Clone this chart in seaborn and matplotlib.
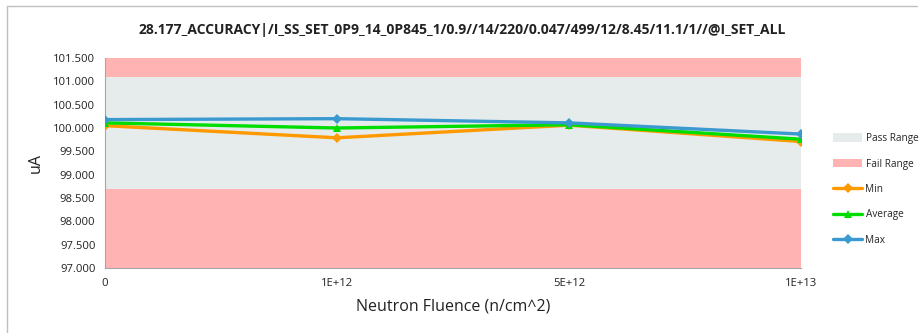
import matplotlib
matplotlib.use("Agg")
import matplotlib.pyplot as plt
from matplotlib.lines import Line2D
from matplotlib.patches import Patch
import seaborn as sns
import pandas as pd

# Measured current per neutron fluence step
fluence_labels = ["0", "1E+12", "5E+12", "1E+13"]
min_vals = [100.05, 99.79, 100.06, 99.71]
avg_vals = [100.11, 100.00, 100.07, 99.76]
max_vals = [100.18, 100.20, 100.11, 99.87]

# Specification limits
pass_low, pass_high = 98.7, 101.1
y_min, y_max = 97.0, 101.5
y_ticks = [97.0, 97.5, 98.0, 98.5, 99.0, 99.5, 100.0, 100.5, 101.0, 101.5]

title = "28.177_ACCURACY|/I_SS_SET_0P9_14_0P845_1/0.9//14/220/0.047/499/12/8.45/11.1/1//@I_SET_ALL"

series_names = ["Min", "Average", "Max"]
colors = {"Min": "#FF9900", "Average": "#00DD00", "Max": "#3A9AD0"}
markers = {"Min": "D", "Average": "^", "Max": "D"}
pass_color = "#E6EBEB"
fail_color = "#FFB3B3"

rows = []
for name, vals in zip(series_names, [min_vals, avg_vals, max_vals]):
    for i, v in enumerate(vals):
        rows.append({"pos": i, "value": v, "Series": name})
df = pd.DataFrame(rows)

sns.set_theme(style="white")
plt.rcParams["font.family"] = ["Open Sans", "DejaVu Sans"]

W, H = 919, 333
fig = plt.figure(figsize=(W / 100, H / 100), dpi=100)
ax = fig.add_axes([105 / W, (H - 268) / H, (801 - 105) / W, (268 - 58) / H])

# Pass / fail bands
ax.axhspan(pass_low, pass_high, color=pass_color, zorder=0, lw=0)
ax.axhspan(y_min, pass_low, color=fail_color, zorder=0, lw=0)
ax.axhspan(pass_high, y_max, color=fail_color, zorder=0, lw=0)

sns.lineplot(data=df, x="pos", y="value", hue="Series", style="Series",
             hue_order=series_names, style_order=series_names,
             palette=colors, markers=markers, dashes=False,
             linewidth=2.4, markersize=5.5, markeredgewidth=0,
             legend=False, ax=ax, zorder=3)

ax.set_xlim(0, len(fluence_labels) - 1)
ax.set_ylim(y_min, y_max)
ax.set_xticks(range(len(fluence_labels)))
ax.set_xticklabels(fluence_labels)
ax.set_yticks(y_ticks)
ax.set_yticklabels([f"{t:.3f}" for t in y_ticks])
ax.tick_params(axis="both", labelsize=8.1, colors="#222222", length=4,
               width=0.8, direction="out", pad=3)
ax.tick_params(axis="both", color="#A6A6A6")
for side in ["top", "right"]:
    ax.spines[side].set_visible(False)
for side in ["left", "bottom"]:
    ax.spines[side].set_color("#A6A6A6")
    ax.spines[side].set_linewidth(0.8)

ax.set_xlabel("Neutron Fluence (n/cm^2)", fontsize=11.5, color="#222222", labelpad=7)
ax.set_ylabel("uA", fontsize=11.5, color="#222222", labelpad=7)

fig.text(462 / W, 1 - 30 / H, title, ha="center", va="center",
         fontsize=10, fontweight="bold", color="#222222",
         family=["Liberation Sans Narrow", "Open Sans", "DejaVu Sans"])

# Chart frame
fig.add_artist(Line2D([7 / W, 917 / W], [1 - 6 / H, 1 - 6 / H],
                      transform=fig.transFigure, color="#BFBFBF", lw=1))
fig.add_artist(Line2D([7 / W, 7 / W], [0, 1 - 6 / H],
                      transform=fig.transFigure, color="#BFBFBF", lw=1))

handles = [
    Patch(facecolor=pass_color, edgecolor="none", label="Pass Range"),
    Patch(facecolor=fail_color, edgecolor="none", label="Fail Range"),
]
for name in series_names:
    handles.append(Line2D([], [], color=colors[name], lw=2.4,
                          marker=markers[name], markersize=5.5,
                          markeredgewidth=0, label=name))
fig.legend(handles=handles, loc="upper left",
           bbox_to_anchor=(833 / W, 1 - 133 / H), frameon=False,
           fontsize=7.2, handlelength=2.9, handleheight=0.9,
           handletextpad=0.35, labelspacing=1.45, borderpad=0,
           borderaxespad=0)

fig.savefig("out.png", dpi=100)
